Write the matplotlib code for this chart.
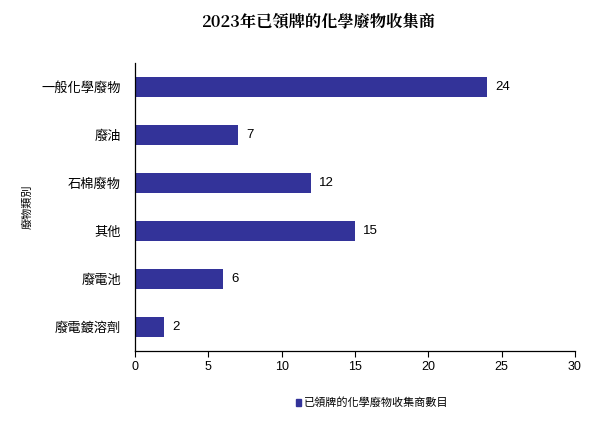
import matplotlib
matplotlib.use("Agg")
import matplotlib.pyplot as plt
from matplotlib.patches import Patch

categories = ["一般化學廢物", "廢油", "石棉廢物", "其他", "廢電池", "廢電鍍溶劑"]
values = [24, 7, 12, 15, 6, 2]
xticks = [0, 5, 10, 15, 20, 25, 30]
title = "2023年已領牌的化學廢物收集商"
ylabel = "廢物類別"
legend_label = "已領牌的化學廢物收集商數目"
color = "#333399"

plt.rcParams['font.family'] = ['Noto Sans CJK TC', 'DejaVu Sans']

fig = plt.figure(figsize=(5.99, 4.23), dpi=100)
ax = fig.add_axes([135/599, 1-351/423, 440/599, 288/423])

ypos = list(range(len(categories)))
ax.barh(ypos, values, height=0.4, color=color)
ax.set_ylim(len(categories)-0.5, -0.5)
ax.set_xlim(0, 30)
ax.set_xticks(xticks)
ax.set_xticklabels([str(t) for t in xticks], fontsize=9, family=['Liberation Sans', 'DejaVu Sans'])
ax.set_yticks(ypos)
ax.set_yticklabels(categories, fontsize=9.5)
ax.tick_params(axis='y', length=0, pad=10)
ax.tick_params(axis='x', length=4, direction='out', pad=3)
for s in ['top', 'right']:
    ax.spines[s].set_visible(False)
for s in ['left', 'bottom']:
    ax.spines[s].set_linewidth(0.9)

for y, v in zip(ypos, values):
    ax.annotate(str(v), (v, y), xytext=(6, 0), textcoords='offset points',
                va='center', ha='left', fontsize=9.5,
                family=['Liberation Sans', 'DejaVu Sans'])

fig.text(0.53, 1-22/423, title, ha='center', va='center', fontsize=11.7,
         family=['Noto Serif CJK TC', 'Noto Sans CJK TC', 'DejaVu Sans'], fontweight='bold')
fig.text(27/599, 1-207/423, ylabel, rotation=90, ha='center', va='center', fontsize=8)

fig.legend(handles=[Patch(color=color, label=legend_label)], loc='center',
           bbox_to_anchor=(372/599, 1-403/423), frameon=False, fontsize=8,
           handlelength=0.5, handleheight=0.5, handletextpad=0.2)

fig.savefig("out.png", dpi=100)
